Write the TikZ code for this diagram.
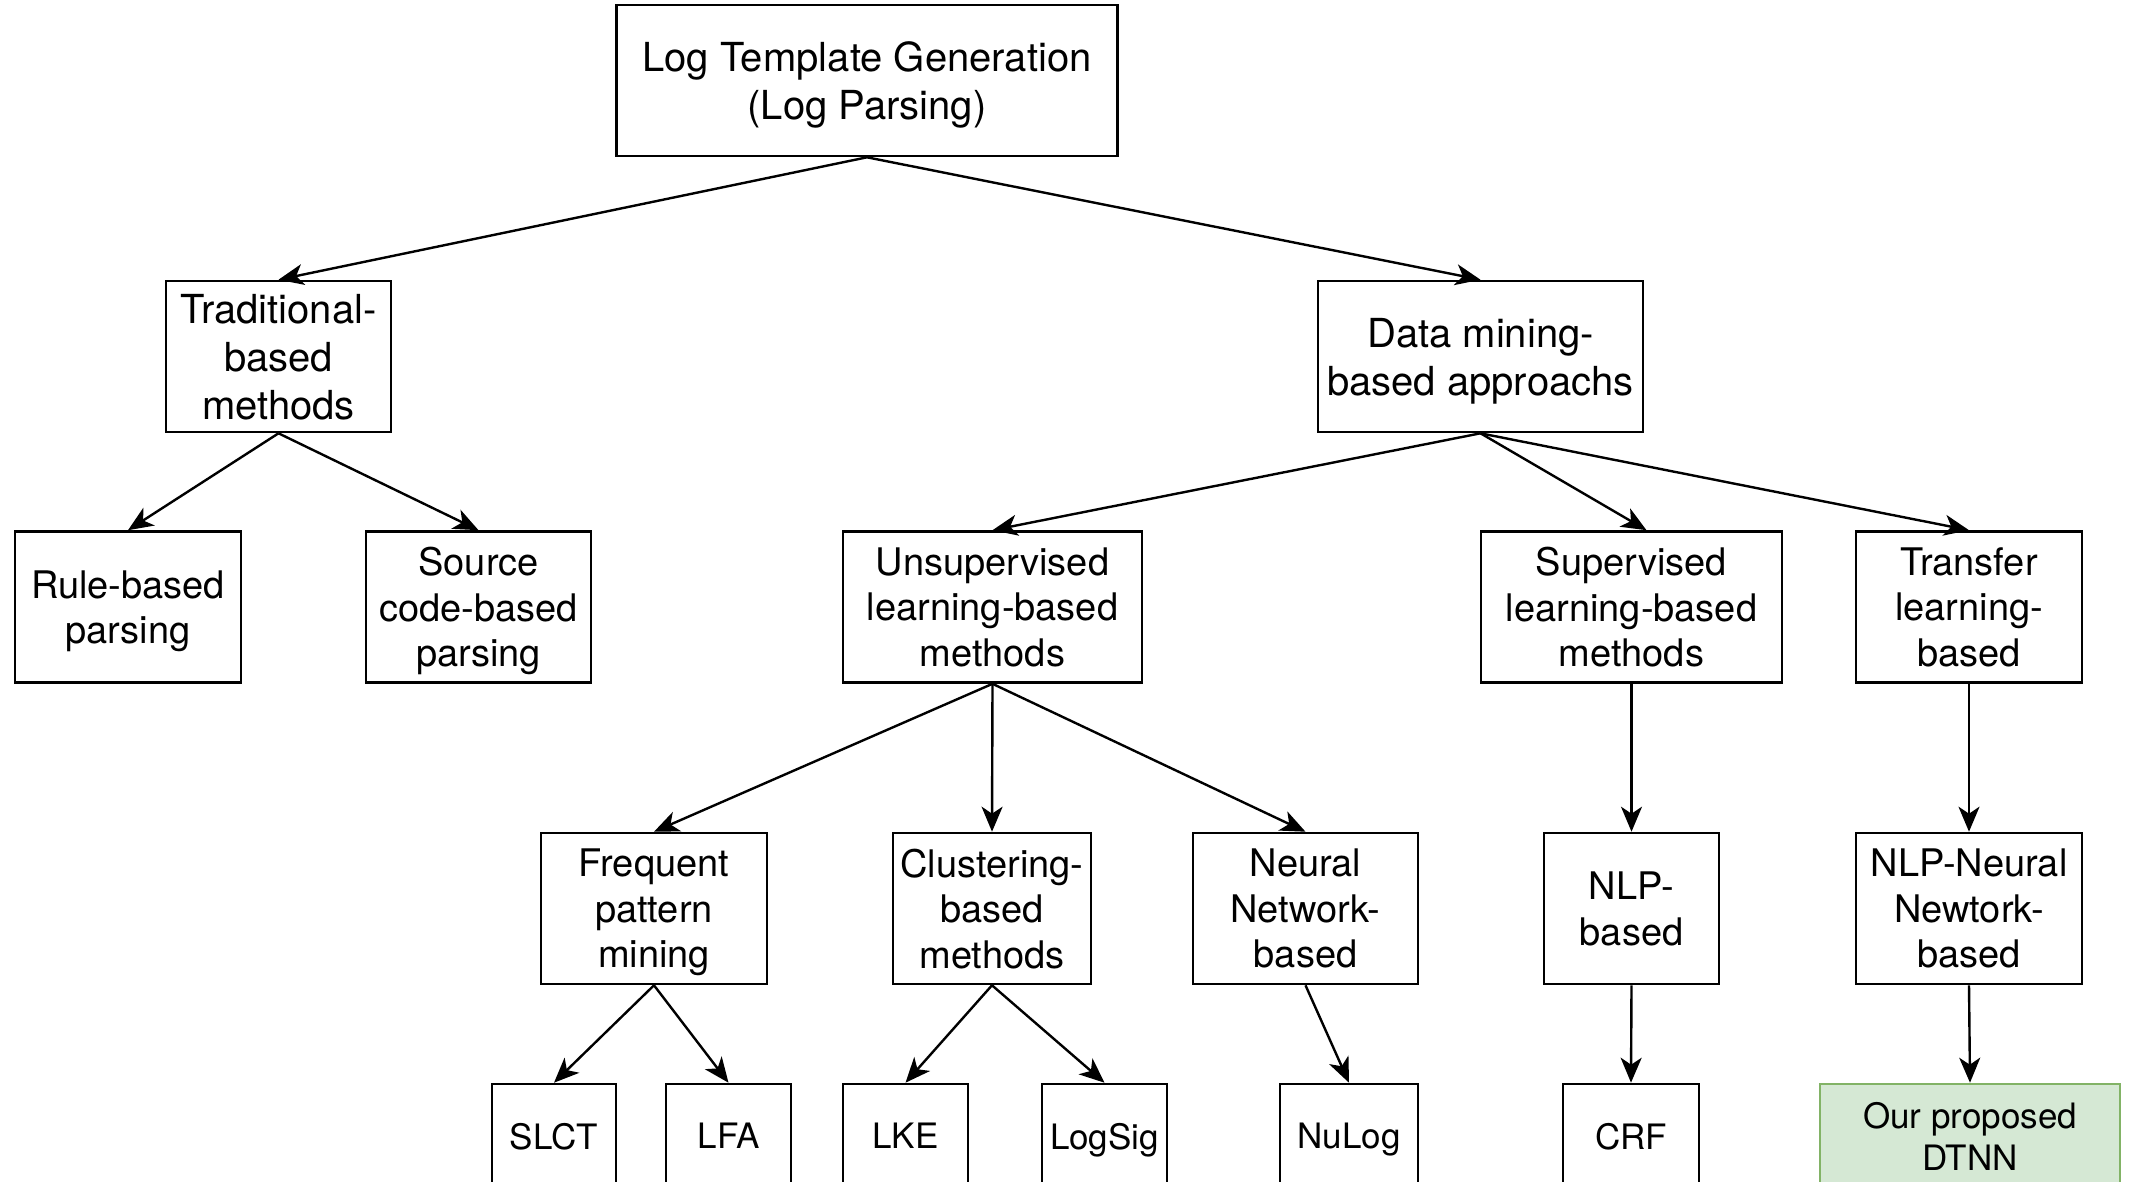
\documentclass[tikz,border=0pt]{standalone}
\usepackage{fontspec}
\setmainfont{TeX Gyre Heros}
\usetikzlibrary{arrows.meta}
\definecolor{okfill}{HTML}{D5E8D4}
\definecolor{okline}{HTML}{82B366}
\begin{document}
\begin{tikzpicture}[x=0.5pt,y=-0.5pt,
  box/.style={draw=black, line width=1.3pt, rectangle, align=center,
    inner sep=2pt, text depth=0pt, font=\fontsize{19pt}{22.8pt}\selectfont},
  big/.style={font=\fontsize{20pt}{24pt}\selectfont},
  lvl/.style={minimum height=75.5pt},
  leaf/.style={minimum height=52pt, font=\fontsize{17.5pt}{21pt}\selectfont},
  ours/.style={fill=okfill, draw=okline},
  link/.style={line width=1.2pt, -{Stealth[length=12.5pt,width=10.5pt,inset=3.5pt]}}]
\clip (0,0) rectangle (2131,1182);
\fill[white] (0,0) rectangle (2131,1182);

% level 0
\node[box, big, minimum width=250.5pt, minimum height=75.5pt] (root) at (867,80.5)
  {Log Template Generation\\(Log Parsing)};

% level 1
\node[box, big, lvl, minimum width=112.5pt] (trad) at (278.5,356.5) {Traditional-\\based\\methods};
\node[box, big, lvl, minimum width=162.5pt] (data) at (1480.5,356.5) {Data mining-\\based approachs};

% level 2
\node[box, lvl, minimum width=113pt]   (rule)  at (128,607)    {Rule-based\\parsing};
\node[box, lvl, minimum width=112.5pt] (src)   at (478.5,607)  {Source\\code-based\\parsing};
\node[box, lvl, minimum width=149.5pt] (unsup) at (992.5,607)  {Unsupervised\\learning-based\\methods};
\node[box, lvl, minimum width=150.5pt] (sup)   at (1631.5,607) {Supervised\\learning-based\\methods};
\node[box, lvl, minimum width=113pt]   (trans) at (1969,607)   {Transfer\\learning-\\based};

% level 3
\node[box, lvl, minimum width=113pt]   (freq)  at (654,908.5)    {Frequent\\pattern\\mining};
\node[box, lvl, minimum width=99pt]    (clust) at (992,908.5)    {Clustering-\\based\\methods};
\node[box, lvl, minimum width=112.5pt] (neur)  at (1305.5,908.5) {Neural\\Network-\\based};
\node[box, lvl, minimum width=87.5pt]  (nlp)   at (1631.5,908.5) {NLP-\\based};
\node[box, lvl, minimum width=113pt]   (nlpn)  at (1969,908.5)   {NLP-Neural\\Newtork-\\based};

% level 4
\node[box, leaf, minimum width=62pt]   (slct)   at (554,1136)    {SLCT};
\node[box, leaf, minimum width=62.5pt] (lfa)    at (728.5,1136)  {LFA};
\node[box, leaf, minimum width=62.5pt] (lke)    at (905.5,1136)  {LKE};
\node[box, leaf, minimum width=62.5pt] (logsig) at (1104.5,1136) {LogSig};
\node[box, leaf, minimum width=69pt]   (nulog)  at (1349,1136)   {NuLog};
\node[box, leaf, minimum width=68pt]   (crf)    at (1631,1136)   {CRF};
\node[box, leaf, ours, minimum width=150pt] (dtnn) at (1970,1136) {Our proposed\\DTNN};

% connectors
\draw[link] (root.south) -- (trad.north);
\draw[link] (root.south) -- (data.north);
\draw[link] (trad.south) -- (rule.north);
\draw[link] (trad.south) -- (src.north);
\draw[link] (data.south) -- (unsup.north);
\draw[link] (data.south) -- ([xshift=7.5pt]sup.north);
\draw[link] (data.south) -- (trans.north);
\draw[link] (unsup.south) -- (freq.north);
\draw[link] (unsup.south) -- (clust.north);
\draw[link] (unsup.south) -- (neur.north);
\draw[link] (sup.south) -- (nlp.north);
\draw[link] (trans.south) -- (nlpn.north);
\draw[link] (freq.south) -- (slct.north);
\draw[link] (freq.south) -- (lfa.north);
\draw[link] (clust.south) -- (lke.north);
\draw[link] (clust.south) -- (logsig.north);
\draw[link] (neur.south) -- (nulog.north);
\draw[link] (nlp.south) -- (crf.north);
\draw[link] (nlpn.south) -- (dtnn.north);
\end{tikzpicture}
\end{document}
